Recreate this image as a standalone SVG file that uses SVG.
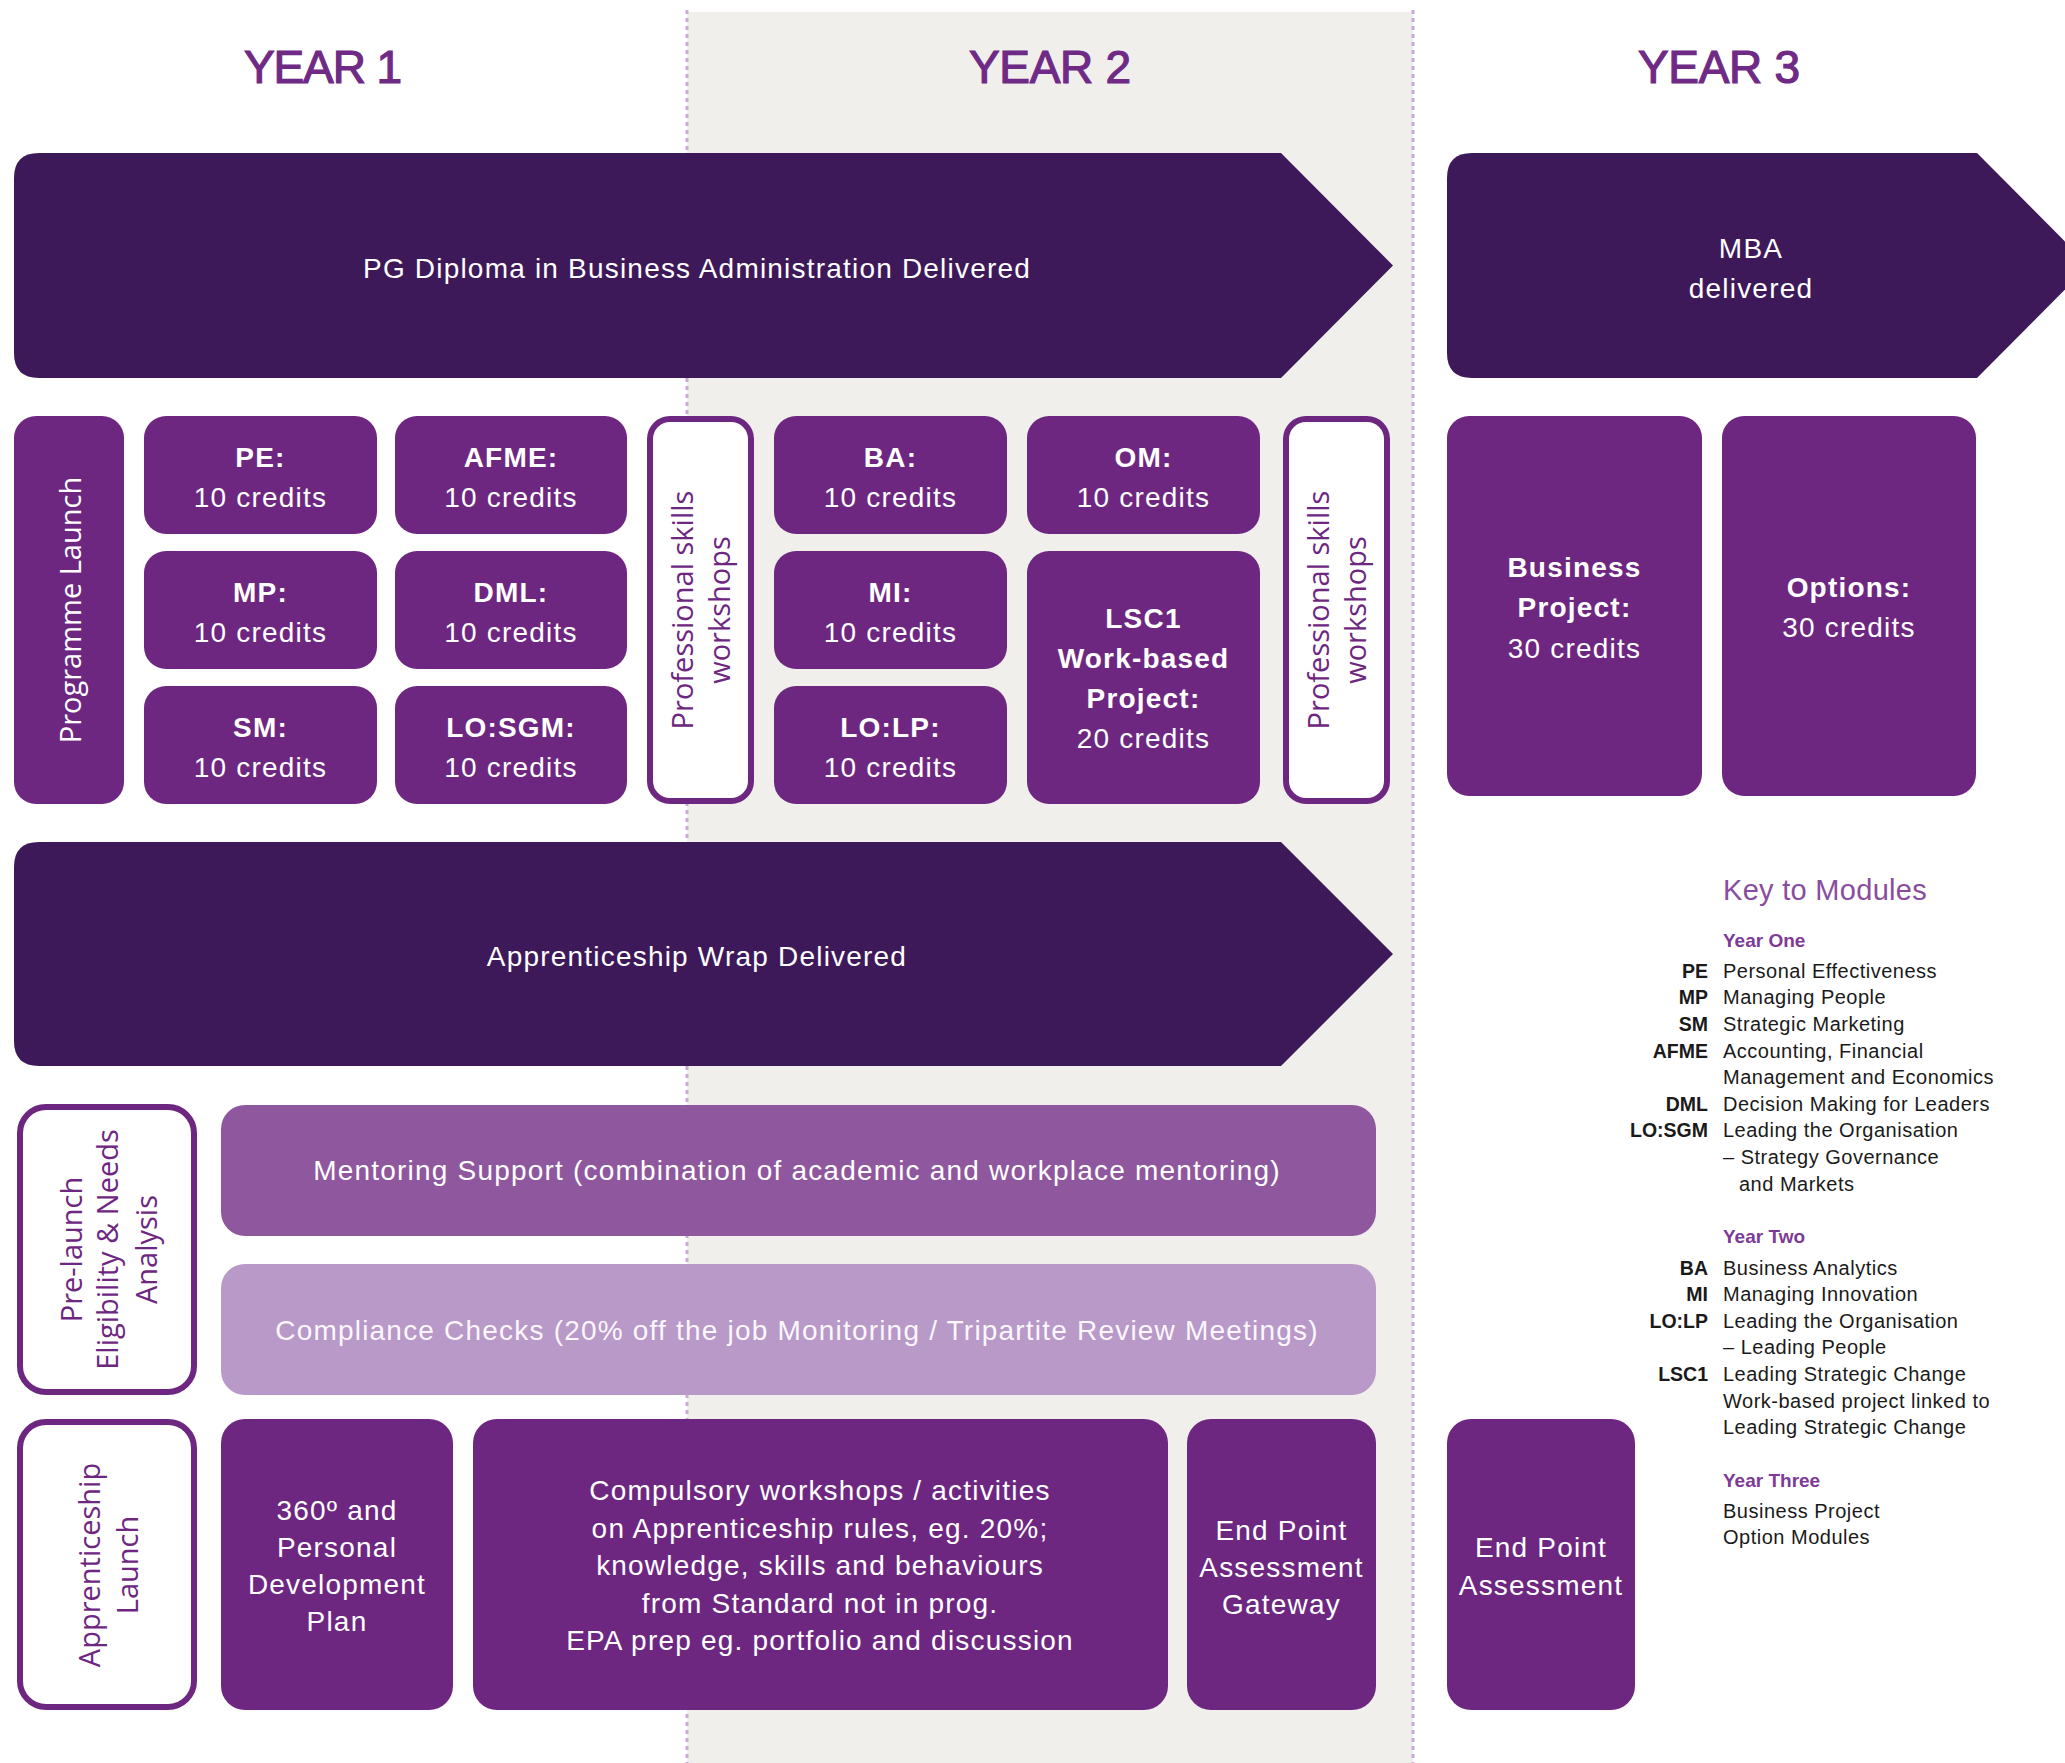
<svg xmlns="http://www.w3.org/2000/svg" width="2065" height="1763" viewBox="0 0 2065 1763">
<style>
.dark{fill:#3E1959}
.mod{fill:#6E2781}
.outl{fill:#FFFFFF;stroke:#6E2781;stroke-width:6}
.ment{fill:#8F579D}
.comp{fill:#B899C8}
.wt{font-family:"Liberation Sans",Arial,sans-serif;font-size:28px;fill:#FFFFFF;letter-spacing:1.2px;text-anchor:middle}
.b{font-weight:bold}
.rot{font-family:"Open Sans","DejaVu Sans",sans-serif;font-size:29px;text-anchor:middle}
.rw{fill:#FFFFFF}
.rp{fill:#6E2781}
.year{font-family:"Liberation Sans",Arial,sans-serif;font-size:46px;fill:#6F2A86;stroke:#6F2A86;stroke-width:1.2;text-anchor:middle}
.kt{font-family:"Liberation Sans",Arial,sans-serif;font-size:29px;fill:#8A4D9E;letter-spacing:0.3px}
.kh{font-family:"Liberation Sans",Arial,sans-serif;font-size:19px;font-weight:bold;fill:#7E3A96}
.ka{font-family:"Liberation Sans",Arial,sans-serif;font-size:19.5px;font-weight:bold;fill:#1A1A1A;text-anchor:end}
.kd{font-family:"Liberation Sans",Arial,sans-serif;font-size:20px;fill:#1A1A1A;letter-spacing:0.5px}
.dot{stroke:#C9A9D8;stroke-width:3;stroke-dasharray:4 4;fill:none}
</style>

<g id="background">
<rect x="687" y="12" width="726" height="1751" fill="#F0EFEC"/>
</g>

<g id="connectors">
<line class="dot" x1="687" y1="10" x2="687" y2="1763"/>
<line class="dot" x1="1413" y1="10" x2="1413" y2="1763" stroke-dasharray="3 3"/>
</g>

<g id="titles">
<text class="year" x="323" y="83" textLength="158" lengthAdjust="spacing">YEAR 1</text>
<text class="year" x="1050" y="83" textLength="162" lengthAdjust="spacing">YEAR 2</text>
<text class="year" x="1719" y="83" textLength="162" lengthAdjust="spacing">YEAR 3</text>
</g>

<g id="pg-diploma">
<path class="dark" d="M39,153 H1281 L1393,265.5 L1281,378 H39 Q14,378 14,353 V178 Q14,153 39,153 Z"/>
<text class="wt" x="697" y="278">PG Diploma in Business Administration Delivered</text>
</g>

<g id="mba">
<path class="dark" d="M1472,153 H1977 L2089,265.5 L1977,378 H1472 Q1447,378 1447,353 V178 Q1447,153 1472,153 Z"/>
<text class="wt" x="1751" y="258">MBA</text>
<text class="wt" x="1751" y="298">delivered</text>
</g>

<g id="programme-launch">
<rect class="mod" x="14" y="416" width="110" height="388" rx="22"/>
<text class="rot rw" transform="translate(69,610) rotate(-90)" y="12">Programme Launch</text>
</g>

<g id="pe">
<rect class="mod" x="144" y="416" width="233" height="118" rx="22"/>
<text class="wt b" x="260.5" y="467">PE:</text>
<text class="wt" x="260.5" y="507">10 credits</text>
</g>
<g id="mp">
<rect class="mod" x="144" y="551" width="233" height="118" rx="22"/>
<text class="wt b" x="260.5" y="602">MP:</text>
<text class="wt" x="260.5" y="642">10 credits</text>
</g>
<g id="sm">
<rect class="mod" x="144" y="686" width="233" height="118" rx="22"/>
<text class="wt b" x="260.5" y="737">SM:</text>
<text class="wt" x="260.5" y="777">10 credits</text>
</g>
<g id="afme">
<rect class="mod" x="395" y="416" width="232" height="118" rx="22"/>
<text class="wt b" x="511" y="467">AFME:</text>
<text class="wt" x="511" y="507">10 credits</text>
</g>
<g id="dml">
<rect class="mod" x="395" y="551" width="232" height="118" rx="22"/>
<text class="wt b" x="511" y="602">DML:</text>
<text class="wt" x="511" y="642">10 credits</text>
</g>
<g id="losgm">
<rect class="mod" x="395" y="686" width="232" height="118" rx="22"/>
<text class="wt b" x="511" y="737">LO:SGM:</text>
<text class="wt" x="511" y="777">10 credits</text>
</g>

<g id="prof-skills-1">
<rect class="outl" x="650" y="419" width="101" height="382" rx="20"/>
<text class="rot rp" transform="translate(700.5,610) rotate(-90)" y="-7.5">Professional skills</text>
<text class="rot rp" transform="translate(700.5,610) rotate(-90)" y="29.5">workshops</text>
</g>

<g id="ba">
<rect class="mod" x="774" y="416" width="233" height="118" rx="22"/>
<text class="wt b" x="890.5" y="467">BA:</text>
<text class="wt" x="890.5" y="507">10 credits</text>
</g>
<g id="mi">
<rect class="mod" x="774" y="551" width="233" height="118" rx="22"/>
<text class="wt b" x="890.5" y="602">MI:</text>
<text class="wt" x="890.5" y="642">10 credits</text>
</g>
<g id="lolp">
<rect class="mod" x="774" y="686" width="233" height="118" rx="22"/>
<text class="wt b" x="890.5" y="737">LO:LP:</text>
<text class="wt" x="890.5" y="777">10 credits</text>
</g>
<g id="om">
<rect class="mod" x="1027" y="416" width="233" height="118" rx="22"/>
<text class="wt b" x="1143.5" y="467">OM:</text>
<text class="wt" x="1143.5" y="507">10 credits</text>
</g>
<g id="lsc1">
<rect class="mod" x="1027" y="551" width="233" height="253" rx="22"/>
<text class="wt b" x="1143.5" y="628">LSC1</text>
<text class="wt b" x="1143.5" y="668">Work-based</text>
<text class="wt b" x="1143.5" y="708">Project:</text>
<text class="wt" x="1143.5" y="748">20 credits</text>
</g>

<g id="prof-skills-2">
<rect class="outl" x="1286" y="419" width="101" height="382" rx="20"/>
<text class="rot rp" transform="translate(1336.5,610) rotate(-90)" y="-7.5">Professional skills</text>
<text class="rot rp" transform="translate(1336.5,610) rotate(-90)" y="29.5">workshops</text>
</g>

<g id="business-project">
<rect class="mod" x="1447" y="416" width="255" height="380" rx="22"/>
<text class="wt b" x="1574.5" y="577">Business</text>
<text class="wt b" x="1574.5" y="617">Project:</text>
<text class="wt" x="1574.5" y="658">30 credits</text>
</g>
<g id="options">
<rect class="mod" x="1722" y="416" width="254" height="380" rx="22"/>
<text class="wt b" x="1849" y="597">Options:</text>
<text class="wt" x="1849" y="637">30 credits</text>
</g>

<g id="apprenticeship-wrap">
<path class="dark" d="M39,842 H1281 L1393,954 L1281,1066 H39 Q14,1066 14,1041 V867 Q14,842 39,842 Z"/>
<text class="wt" x="697" y="966">Apprenticeship Wrap Delivered</text>
</g>

<g id="pre-launch">
<rect class="outl" x="20" y="1107" width="174" height="285" rx="26"/>
<text class="rot rp" transform="translate(107,1249.5) rotate(-90)" y="-25">Pre-launch</text>
<text class="rot rp" transform="translate(107,1249.5) rotate(-90)" y="11">Eligibility &amp; Needs</text>
<text class="rot rp" transform="translate(107,1249.5) rotate(-90)" y="50">Analysis</text>
</g>

<g id="mentoring">
<rect class="ment" x="221" y="1105" width="1155" height="131" rx="24"/>
<text class="wt" x="797" y="1180">Mentoring Support (combination of academic and workplace mentoring)</text>
</g>

<g id="compliance">
<rect class="comp" x="221" y="1264" width="1155" height="131" rx="24"/>
<text class="wt" x="797" y="1340" style="fill:#FBF7FC">Compliance Checks (20% off the job Monitoring / Tripartite Review Meetings)</text>
</g>

<g id="apprenticeship-launch">
<rect class="outl" x="20" y="1422" width="174" height="285" rx="26"/>
<text class="rot rp" transform="translate(107,1565) rotate(-90)" y="-7">Apprenticeship</text>
<text class="rot rp" transform="translate(107,1565) rotate(-90)" y="31">Launch</text>
</g>

<g id="pdp">
<rect class="mod" x="221" y="1419" width="232" height="291" rx="24"/>
<text class="wt" x="337" y="1520">360º and</text>
<text class="wt" x="337" y="1557">Personal</text>
<text class="wt" x="337" y="1594">Development</text>
<text class="wt" x="337" y="1631">Plan</text>
</g>

<g id="compulsory">
<rect class="mod" x="473" y="1419" width="695" height="291" rx="24"/>
<text class="wt" x="820" y="1500">Compulsory workshops / activities</text>
<text class="wt" x="820" y="1538">on Apprenticeship rules, eg. 20%;</text>
<text class="wt" x="820" y="1575">knowledge, skills and behaviours</text>
<text class="wt" x="820" y="1613">from Standard not in prog.</text>
<text class="wt" x="820" y="1650">EPA prep eg. portfolio and discussion</text>
</g>

<g id="epa-gateway">
<rect class="mod" x="1187" y="1419" width="189" height="291" rx="24"/>
<text class="wt" x="1281.5" y="1540">End Point</text>
<text class="wt" x="1281.5" y="1577">Assessment</text>
<text class="wt" x="1281.5" y="1614">Gateway</text>
</g>

<g id="epa">
<rect class="mod" x="1447" y="1419" width="188" height="291" rx="24"/>
<text class="wt" x="1541" y="1557">End Point</text>
<text class="wt" x="1541" y="1595">Assessment</text>
</g>

<g id="key">
<text class="kt" x="1723" y="900">Key to Modules</text>
<text class="kh" x="1723" y="947">Year One</text>
<text class="ka" x="1708" y="978">PE</text><text class="kd" x="1723" y="978">Personal Effectiveness</text>
<text class="ka" x="1708" y="1004">MP</text><text class="kd" x="1723" y="1004">Managing People</text>
<text class="ka" x="1708" y="1031">SM</text><text class="kd" x="1723" y="1031">Strategic Marketing</text>
<text class="ka" x="1708" y="1058">AFME</text><text class="kd" x="1723" y="1058">Accounting, Financial</text>
<text class="kd" x="1723" y="1084">Management and Economics</text>
<text class="ka" x="1708" y="1111">DML</text><text class="kd" x="1723" y="1111">Decision Making for Leaders</text>
<text class="ka" x="1708" y="1137">LO:SGM</text><text class="kd" x="1723" y="1137">Leading the Organisation</text>
<text class="kd" x="1723" y="1164">– Strategy Governance</text>
<text class="kd" x="1739" y="1191">and Markets</text>
<text class="kh" x="1723" y="1243">Year Two</text>
<text class="ka" x="1708" y="1275">BA</text><text class="kd" x="1723" y="1275">Business Analytics</text>
<text class="ka" x="1708" y="1301">MI</text><text class="kd" x="1723" y="1301">Managing Innovation</text>
<text class="ka" x="1708" y="1328">LO:LP</text><text class="kd" x="1723" y="1328">Leading the Organisation</text>
<text class="kd" x="1723" y="1354">– Leading People</text>
<text class="ka" x="1708" y="1381">LSC1</text><text class="kd" x="1723" y="1381">Leading Strategic Change</text>
<text class="kd" x="1723" y="1408">Work-based project linked to</text>
<text class="kd" x="1723" y="1434">Leading Strategic Change</text>
<text class="kh" x="1723" y="1487">Year Three</text>
<text class="kd" x="1723" y="1518">Business Project</text>
<text class="kd" x="1723" y="1544">Option Modules</text>
</g>
</svg>
